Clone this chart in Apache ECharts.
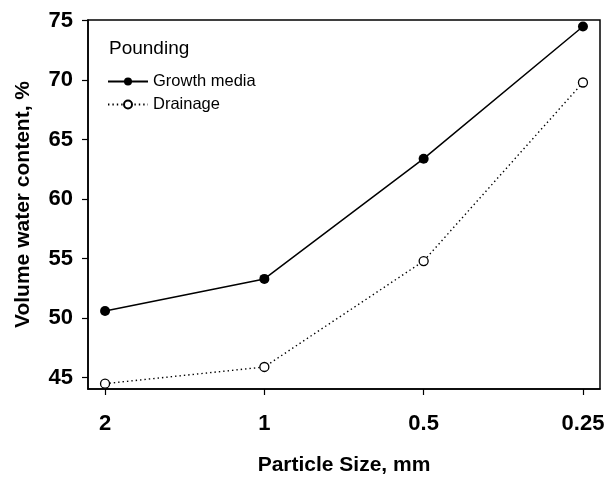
<!DOCTYPE html>
<html><head><meta charset="utf-8">
<script src="https://cdn.jsdelivr.net/npm/echarts@6/dist/echarts.min.js"></script>
<style>html,body{margin:0;padding:0;background:#fff}#c{width:609px;height:479px}</style>
</head><body><div id="c"></div>
<script>
const categories = ['2', '1', '0.5', '0.25'];
const growthMedia = [50.6, 53.3, 63.4, 74.5];
const drainage = [44.5, 45.9, 54.8, 69.8];
const yTicks = [45, 50, 55, 60, 65, 70, 75];

const chart = echarts.init(document.getElementById('c'));
const font = 'Liberation Sans, Arial, sans-serif';
chart.setOption({
  animation: false,
  backgroundColor: '#fff',
  title: { text: 'Pounding', left: 104, top: 34, textStyle: { fontFamily: font, fontSize: 19, fontWeight: 'normal', color: '#000' } },
  legend: {
    left: 102, top: 68, orient: 'vertical', itemWidth: 40, itemHeight: 10, itemGap: 6,
    textStyle: { fontFamily: font, fontSize: 16.5, color: '#000' },
    data: ['Growth media', 'Drainage']
  },
  grid: { left: 88, right: 9, top: 20, bottom: 90, outerBoundsMode: 'none', containLabel: false, show: true, borderColor: '#000', borderWidth: 1.5, backgroundColor: 'transparent' },
  xAxis: {
    type: 'value', min: -0.107, max: 3.107,
    splitLine: { show: false },
    axisLine: { onZero: false, lineStyle: { color: '#000', width: 1.5 } },
    axisTick: { show: true, length: 6, lineStyle: { color: '#000', width: 1.2 }, customValues: [0, 1, 2, 3] },
    axisLabel: { customValues: [0, 1, 2, 3], formatter: v => categories[Math.round(v)], fontFamily: font, fontSize: 22, fontWeight: 'bold', color: '#000', margin: 24 },
    name: 'Particle Size, mm', nameLocation: 'middle', nameGap: 66,
    nameTextStyle: { fontFamily: font, fontSize: 21, fontWeight: 'bold', color: '#000' }
  },
  yAxis: {
    type: 'value', min: 44.05, max: 75.05,
    splitLine: { show: false },
    axisLine: { show: true, onZero: false, lineStyle: { color: '#000', width: 1.5 } },
    axisTick: { show: true, length: 6, lineStyle: { color: '#000', width: 1.2 }, customValues: yTicks },
    axisLabel: { customValues: yTicks, fontFamily: font, fontSize: 22, fontWeight: 'bold', color: '#000', margin: 15 },
    name: 'Volume water content, %', nameLocation: 'middle', nameGap: 54,
    nameTextStyle: { fontFamily: font, fontSize: 21, fontWeight: 'bold', color: '#000' }
  },
  series: [
    { name: 'Growth media', type: 'line', data: growthMedia.map((v, i) => [i, v]),
      symbol: 'circle', symbolSize: 10,
      lineStyle: { color: '#000', width: 1.5 }, itemStyle: { color: '#000' } },
    { name: 'Drainage', type: 'line', data: drainage.map((v, i) => [i, v]),
      symbol: 'circle', symbolSize: 9,
      lineStyle: { color: '#000', width: 1.4, type: [1.4, 3] },
      itemStyle: { color: '#fff', borderColor: '#000', borderWidth: 1.3 } }
  ]
});
</script></body></html>
